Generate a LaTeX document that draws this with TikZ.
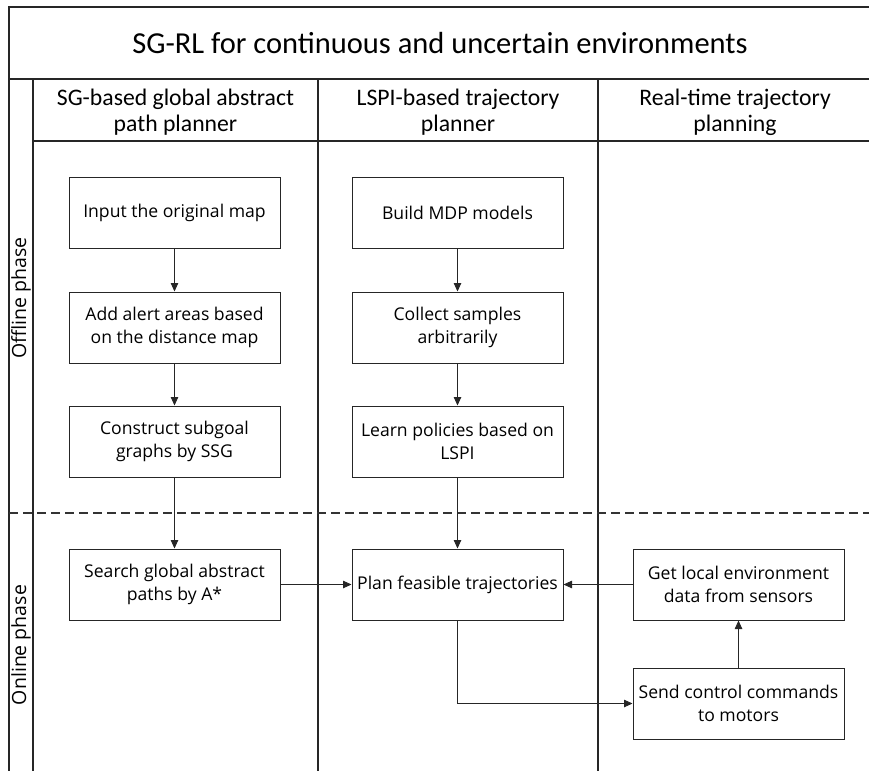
\documentclass[tikz,border=0pt]{standalone}
\usepackage{fontspec}
\setmainfont{Carlito}
\newfontfamily\boxfont{Open Sans}
\usetikzlibrary{arrows.meta}
\tikzset{
  frame/.style={line width=1.3pt, black!85},
  stepbox/.style={draw=black!85, line width=1pt, fill=white, minimum width=211pt, minimum height=71pt,
    align=center, inner sep=2pt, font=\boxfont\fontsize{17.6}{22.7}\selectfont},
  head/.style={align=center, font=\fontsize{23.7}{26}\selectfont},
  lane/.style={rotate=90, font=\boxfont\fontsize{19.5}{22}\selectfont},
  arr/.style={draw=black!85, line width=0.8pt, -{Triangle[length=8.5pt,width=7.5pt]}},
}
\begin{document}
\begin{tikzpicture}[x=1pt,y=-1pt]
\useasboundingbox (0,0) rectangle (869,771);
% frame
\coordinate (tl) at (9,7);
\draw[frame] (869,7) -- (tl) -- (9,771);
\draw[frame] (9,79) -- (869,79);
\draw[frame] (33,79) -- (33,771);
\draw[frame] (33,141) -- (869,141);
\draw[frame] (318,79) -- (318,771);
\draw[frame] (598,79) -- (598,771);
\draw[line width=1.1pt, black!80, dash pattern=on 9pt off 5pt] (9,513) -- (869,513);
% titles
\node[font=\fontsize{30.5}{36}\selectfont] (title) at (440,43) {SG-RL for continuous and uncertain environments};
\node[head] (h1) at (175.5,112.5) {SG-based global abstract\\path planner};
\node[head] (h2) at (458,112.5) {LSPI-based trajectory\\planner};
\node[head] (h3) at (735,112.5) {Real-time trajectory\\planning};
\node[lane] (off) at (21,298) {Offline phase};
\node[lane] (on) at (21,645) {Online phase};
% boxes
\node[stepbox] (input) at (174.5,212.5) {Input the original map};
\node[stepbox] (add) at (174.5,327.5) {Add alert areas based\\on the distance map};
\node[stepbox] (construct) at (174.5,441.5) {Construct subgoal\\graphs by SSG};
\node[stepbox] (search) at (174.5,584.5) {Search global abstract\\paths by A*};
\node[stepbox] (build) at (457.5,212.5) {Build MDP models};
\node[stepbox] (collect) at (457.5,327.5) {Collect samples\\arbitrarily};
\node[stepbox] (learn) at (457.5,441.5) {Learn policies based on\\LSPI};
\node[stepbox] (plan) at (457.5,584.5) {Plan feasible trajectories};
\node[stepbox] (get) at (738.5,584.5) {Get local environment\\data from sensors};
\node[stepbox] (send) at (738.5,703.5) {Send control commands\\to motors};
% connectors
\draw[arr] (input) -- (add);
\draw[arr] (add) -- (construct);
\draw[arr] (construct) -- (search);
\draw[arr] (build) -- (collect);
\draw[arr] (collect) -- (learn);
\draw[arr] (learn) -- (plan);
\draw[arr] (search) -- (plan);
\draw[arr] (get) -- (plan);
\draw[arr] (plan) |- (send);
\draw[arr] (send) -- (get);
\end{tikzpicture}
\end{document}
